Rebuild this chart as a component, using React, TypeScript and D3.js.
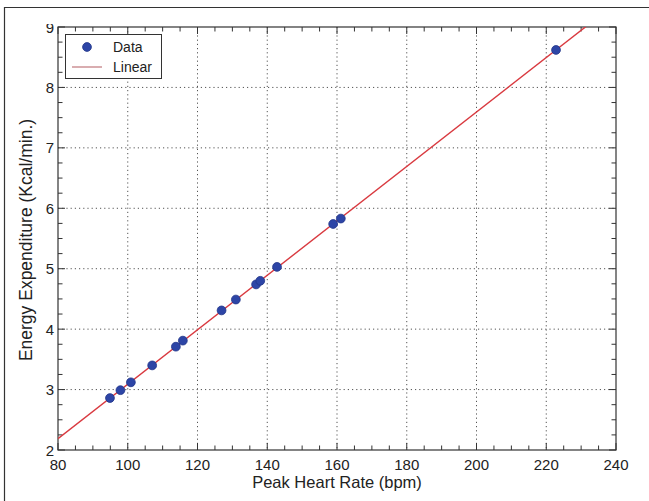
import React, { useEffect, useRef } from "react";
import * as d3 from "d3";

// peak heart rate (bpm) and energy expenditure (Kcal/min.)
const heartRate = [94.9, 97.9, 100.9, 107.0, 113.8, 115.8, 126.9, 131.0, 136.8, 138.0, 142.8, 158.9, 161.1, 222.8];
const energy = [2.86, 2.99, 3.12, 3.4, 3.71, 3.81, 4.31, 4.49, 4.74, 4.8, 5.03, 5.74, 5.83, 8.62];

const xTicks = [80, 100, 120, 140, 160, 180, 200, 220, 240];
const yTicks = [2, 3, 4, 5, 6, 7, 8, 9];
const legendLabels = ["Data", "Linear"];

const FONT = "'Liberation Sans', Arial, Helvetica, sans-serif";

const App = () => {
  const chartRef = useRef<SVGSVGElement | null>(null);

  useEffect(() => {
    document.body.style.margin = "0";
    drawChart();
  }, []);

  const drawChart = () => {
    const width = 649;
    const height = 501;
    const plot = { left: 58, right: 616, top: 27, bottom: 450 };

    const svg = d3.select(chartRef.current).attr("width", width).attr("height", height);
    svg.selectAll("*").remove();

    const x = d3.scaleLinear().domain([80, 240]).range([plot.left, plot.right]);
    const y = d3.scaleLinear().domain([2, 9]).range([plot.bottom, plot.top]);

    const defs = svg.append("defs");
    defs
      .append("clipPath")
      .attr("id", "plot-clip")
      .append("rect")
      .attr("x", plot.left)
      .attr("y", plot.top)
      .attr("width", plot.right - plot.left)
      .attr("height", plot.bottom - plot.top);
    defs
      .append("clipPath")
      .attr("id", "label-clip")
      .append("rect")
      .attr("x", 0)
      .attr("y", 24)
      .attr("width", plot.left)
      .attr("height", height);

    // outer frame (top and left edges visible)
    svg.append("line").attr("x1", 4).attr("x2", width).attr("y1", 7.5).attr("y2", 7.5)
      .attr("stroke", "#333").attr("stroke-width", 1.2);
    svg.append("line").attr("x1", 4.5).attr("x2", 4.5).attr("y1", 7).attr("y2", height)
      .attr("stroke", "#333").attr("stroke-width", 1.2);

    // dotted grid
    const grid = svg.append("g").attr("stroke", "#555").attr("stroke-width", 1).attr("stroke-dasharray", "1.2,3");
    xTicks.slice(1, -1).forEach((t) => {
      grid.append("line").attr("x1", x(t)).attr("x2", x(t)).attr("y1", plot.top).attr("y2", plot.bottom);
    });
    yTicks.slice(1, -1).forEach((t) => {
      grid.append("line").attr("x1", plot.left).attr("x2", plot.right).attr("y1", y(t)).attr("y2", y(t));
    });

    // inward ticks on all four sides
    const ticks = svg.append("g").attr("stroke", "#333").attr("stroke-width", 1);
    const minorX = d3.range(80, 240.1, 5);
    const minorY = d3.range(2, 9.01, 0.25);
    minorX.forEach((t) => {
      const len = t % 20 === 0 ? 7 : 4.5;
      ticks.append("line").attr("x1", x(t)).attr("x2", x(t)).attr("y1", plot.bottom).attr("y2", plot.bottom - len);
      ticks.append("line").attr("x1", x(t)).attr("x2", x(t)).attr("y1", plot.top).attr("y2", plot.top + len);
    });
    minorY.forEach((t) => {
      const len = Math.abs(t - Math.round(t)) < 1e-6 ? 7 : 4.5;
      ticks.append("line").attr("x1", plot.left).attr("x2", plot.left + len).attr("y1", y(t)).attr("y2", y(t));
      ticks.append("line").attr("x1", plot.right).attr("x2", plot.right - len).attr("y1", y(t)).attr("y2", y(t));
    });

    // plot box
    svg
      .append("rect")
      .attr("x", plot.left)
      .attr("y", plot.top)
      .attr("width", plot.right - plot.left)
      .attr("height", plot.bottom - plot.top)
      .attr("fill", "none")
      .attr("stroke", "#333")
      .attr("stroke-width", 1.2);

    // tick labels
    svg
      .append("g")
      .selectAll("text")
      .data(xTicks)
      .join("text")
      .attr("x", (d) => x(d))
      .attr("y", 470)
      .attr("text-anchor", "middle")
      .attr("font-family", FONT)
      .attr("font-size", 15)
      .attr("fill", "#222")
      .text((d) => d);

    svg
      .append("g")
      .attr("clip-path", "url(#label-clip)")
      .selectAll("text")
      .data(yTicks)
      .join("text")
      .attr("x", plot.left - 4)
      .attr("y", (d) => y(d) + 5.5)
      .attr("text-anchor", "end")
      .attr("font-family", FONT)
      .attr("font-size", 15)
      .attr("fill", "#222")
      .text((d) => d);

    // axis titles
    svg
      .append("text")
      .attr("x", (plot.left + plot.right) / 2)
      .attr("y", 488)
      .attr("text-anchor", "middle")
      .attr("font-family", FONT)
      .attr("font-size", 16.5)
      .attr("fill", "#222")
      .text("Peak Heart Rate (bpm)");

    svg
      .append("text")
      .attr("transform", `translate(32,240) rotate(-90)`)
      .attr("text-anchor", "middle")
      .attr("font-family", FONT)
      .attr("font-size", 17.5)
      .attr("fill", "#222")
      .text("Energy Expenditure (Kcal/min.)");

    // least squares linear fit
    const mx = d3.mean(heartRate) as number;
    const my = d3.mean(energy) as number;
    let sxy = 0;
    let sxx = 0;
    heartRate.forEach((h, i) => {
      sxy += (h - mx) * (energy[i] - my);
      sxx += (h - mx) * (h - mx);
    });
    const slope = sxy / sxx;
    const intercept = my - slope * mx;

    const fitLine = d3
      .line<number>()
      .x((d) => x(d))
      .y((d) => y(slope * d + intercept));

    svg
      .append("path")
      .datum(x.domain())
      .attr("clip-path", "url(#plot-clip)")
      .attr("fill", "none")
      .attr("stroke", "#d93a40")
      .attr("stroke-width", 1.4)
      .attr("d", fitLine);

    // data points
    svg
      .append("g")
      .selectAll("circle")
      .data(heartRate.map((h, i) => ({ h, e: energy[i] })))
      .join("circle")
      .attr("cx", (d) => x(d.h))
      .attr("cy", (d) => y(d.e))
      .attr("r", 4.4)
      .attr("fill", "#2d45a6")
      .attr("stroke", "#1f3388")
      .attr("stroke-width", 0.8);

    // legend
    const legend = svg.append("g");
    legend
      .append("rect")
      .attr("x", 65.5)
      .attr("y", 34.5)
      .attr("width", 96)
      .attr("height", 44)
      .attr("fill", "#fff")
      .attr("stroke", "#333")
      .attr("stroke-width", 1);
    legend.append("circle").attr("cx", 87).attr("cy", 47).attr("r", 4.4)
      .attr("fill", "#2d45a6").attr("stroke", "#1f3388").attr("stroke-width", 0.8);
    legend.append("line").attr("x1", 72).attr("x2", 102).attr("y1", 67).attr("y2", 67)
      .attr("stroke", "#c98a8e").attr("stroke-width", 1.4);
    legend
      .selectAll("text")
      .data(legendLabels)
      .join("text")
      .attr("x", 113)
      .attr("y", (d, i) => 52 + i * 20)
      .attr("font-family", FONT)
      .attr("font-size", 14)
      .attr("fill", "#222")
      .text((d) => d);
  };

  return <svg ref={chartRef}></svg>;
};

export default App;
